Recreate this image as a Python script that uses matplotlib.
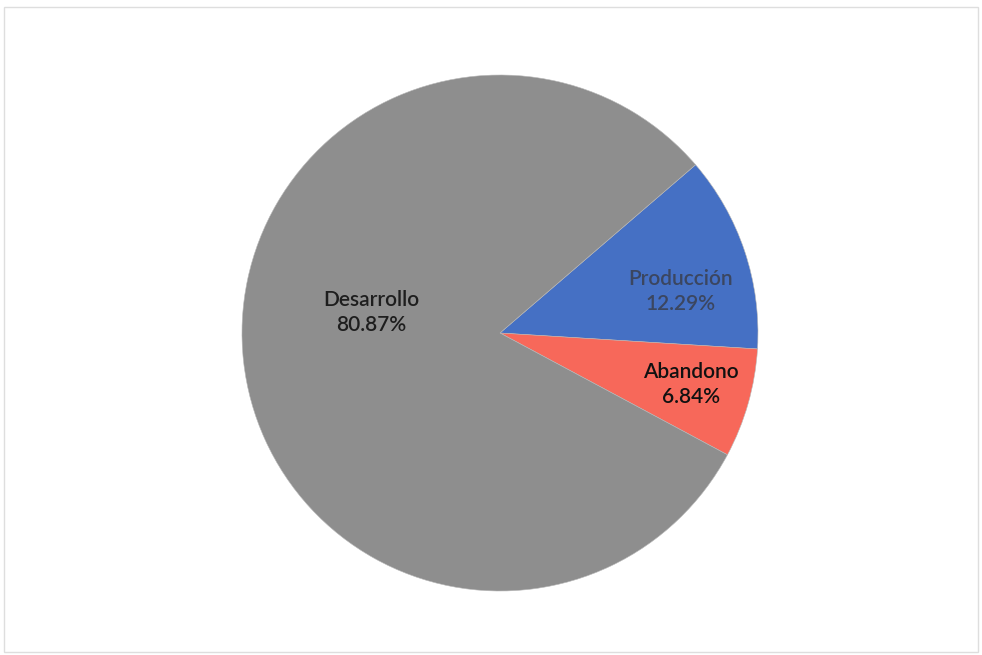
import matplotlib.pyplot as plt
from matplotlib.patches import Rectangle

# data
labels = ["Producción", "Abandono", "Desarrollo"]
values = [12.29, 6.84, 80.87]
colors = ["#4570c4", "#f7685a", "#8e8e8e"]
text_colors = ["#3b4660", "#111111", "#1e1e1e"]
label_pos = [(0.70, 0.16), (0.74, -0.20), (-0.50, 0.08)]

plt.rcParams["font.family"] = ["Lato", "DejaVu Sans"]

fig = plt.figure(figsize=(9.82, 6.55), dpi=100)
fig.patches.append(Rectangle((0.004, 0.004), 0.992, 0.985, transform=fig.transFigure,
                             fill=False, edgecolor="#dedede", lw=1.0))

ax = fig.add_axes([0.2464, 0.0977, 0.5255, 0.7878])
ax.pie(values, colors=colors, startangle=40.7, counterclock=False,
       wedgeprops=dict(edgecolor="#b8b8b8", linewidth=0.4))

for lab, v, tc, (x, y) in zip(labels, values, text_colors, label_pos):
    ax.text(x, y, f"{lab}\n{v:.2f}%", ha="center", va="center",
            fontsize=15, fontweight="semibold", color=tc, linespacing=1.3)

ax.set_xlim(-1, 1)
ax.set_ylim(-1, 1)
ax.set_aspect("equal")
ax.axis("off")

fig.savefig("out.png", dpi=100)
